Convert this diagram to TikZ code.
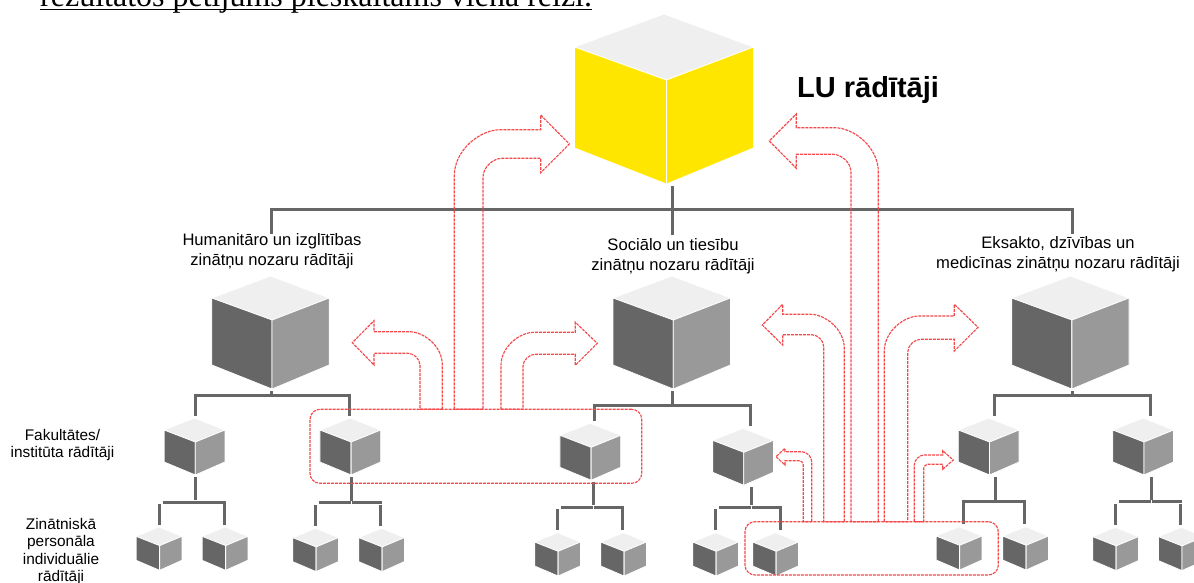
\documentclass[tikz,border=0pt]{standalone}
\usepackage{fontspec}
\setmainfont{Liberation Sans}
\newfontfamily\headfont{Liberation Serif}
\definecolor{treegray}{HTML}{666666}
\definecolor{faceL}{HTML}{666666}
\definecolor{faceR}{HTML}{999999}
\definecolor{faceT}{HTML}{EFEFEF}
\definecolor{luyellow}{HTML}{FFE600}
\definecolor{redline}{HTML}{F4484A}
\tikzset{
  tree/.style={draw=treegray,line width=3pt},
  seam/.style={draw=white,line width=0.8pt,line join=round},
  cubebox/.style={inner sep=0pt,outer sep=0pt,draw=none},
  redpath/.style={draw=redline,line width=1.15pt,dash pattern=on 3pt off 1pt},
  redbox/.style={redpath,rectangle,rounded corners=10pt,inner sep=0pt,outer sep=0pt},
  lab/.style={align=center,inner sep=0pt,font=\fontsize{16.6}{20}\selectfont},
  sidelab/.style={align=center,inner sep=0pt,font=\fontsize{15.4}{17.6}\selectfont}
}
% name, cx, top, half width, top-face half height, side height, left colour, right colour
\newcommand\isocube[8]{%
  \pgfmathsetmacro\sx{#2+0.027*#4}%
  \pgfmathsetmacro\cy{#3+2*#5}%
  \pgfmathsetmacro\sy{#3+#5}%
  \pgfmathsetmacro\by{\cy+1.03*#6}%
  \pgfmathsetmacro\lx{#2-#4}%
  \pgfmathsetmacro\rx{#2+#4}%
  \pgfmathsetmacro\sb{\sy+#6}%
  \path[fill=faceT,seam] (\lx,\sy) -- (#2,#3) -- (\rx,\sy) -- (\sx,\cy) -- cycle;
  \path[fill=#7,seam] (\lx,\sy) -- (\sx,\cy) -- (\sx,\by) -- (\lx,\sb) -- cycle;
  \path[fill=#8,seam] (\rx,\sy) -- (\sx,\cy) -- (\sx,\by) -- (\rx,\sb) -- cycle;
  \pgfmathsetmacro\nw{2*#4}%
  \pgfmathsetmacro\nh{\by-#3+4.5}%
  \pgfmathsetmacro\ny{(#3-2.5+\by+2)/2}%
  \node[cubebox,minimum width=\nw pt,minimum height=\nh pt] (#1) at (\sx,\ny) {};
}
\newcommand\midcube[3]{\isocube{#1}{#2}{#3}{58.7}{22}{67}{faceL}{faceR}}
\newcommand\smallcube[3]{\isocube{#1}{#2}{#3}{30.4}{12}{32}{faceL}{faceR}}
\newcommand\tinycube[3]{\isocube{#1}{#2}{#3}{22.9}{9.3}{24}{faceL}{faceR}}
% parent, left, right, xP, xL, xR, ybar, left gap
\newcommand\branch[8]{%
  \draw[tree] (#4,0 |- #1.south) -- (#4,#7-1.6);
  \draw[tree] (#5,0 |- #2.north) -- (#5,#7+2);
  \draw[tree] (#6,0 |- #3.north) -- (#6,#7+2);
  \draw[tree] (#5+#8,#7) -- (#4-0.4,#7);
  \draw[tree] (#4+0.4,#7) -- (#6+1,#7);
}
% box, outer x, inner x, outer top y, inner top y, base x, wing1, wing2, tip x, tip y, outer r, inner r
\newcommand\bentarrow[9]{%
  \def\ba{#1}\def\bb{#2}\def\bc{#3}\def\bd{#4}\def\be{#5}\def\bf{#6}\def\bg{#7}\def\bh{#8}\def\bi{#9}%
  \bentarrowrest}
\newcommand\bentarrowrest[3]{%
  \pgfmathsetmacro\dd{ifthenelse(\bf>\bb,1,-1)}%
  \pgfmathsetmacro\oax{\bb}\pgfmathsetmacro\oay{\bd+#2}%
  \pgfmathsetmacro\obx{\bb+\dd*#2}%
  \pgfmathsetmacro\iax{\bc}\pgfmathsetmacro\iay{\be+#3}%
  \pgfmathsetmacro\ibx{\bc+\dd*#3}%
  \pgfmathsetmacro\ocay{\bd+0.45*#2}%
  \pgfmathsetmacro\ocbx{\bb+\dd*0.55*#2}%
  \pgfmathsetmacro\icax{\bc+\dd*0.55*#3}%
  \pgfmathsetmacro\icby{\be+0.45*#3}%
  \draw[redpath,line join=miter] (\bb,0 |- \ba.north) -- (\oax,\oay)
    .. controls (\bb,\ocay) and (\ocbx,\bd) .. (\obx,\bd)
    -- (\bf,\bd) -- (\bf,\bg) -- (\bi,#1) -- (\bf,\bh) -- (\bf,\be) -- (\ibx,\be)
    .. controls (\icax,\be) and (\bc,\icby) .. (\iax,\iay)
    -- (\bc,0 |- \ba.north) -- cycle;
}
\begin{document}
\begin{tikzpicture}[x=1pt,y=-1pt]
\useasboundingbox (0,0) rectangle (1194,583);
\clip (0,0) rectangle (1194,583);
\fill[white] (0,0) rectangle (1194,583);

% heading fragment
\node[anchor=base west,inner sep=0pt,font=\headfont\fontsize{32}{34}\selectfont] (head) at (40,6.5) {rezultātos pētījums pieskaitāms vienā reizi.};
\draw[black,line width=1.8pt] ([yshift=-3pt]head.base west) -- ([yshift=-3pt]head.base east);

% cubes
\isocube{lu}{664}{14}{89.5}{33}{101}{luyellow}{luyellow}
\midcube{hum}{270.5}{276}
\midcube{soc}{671.7}{276}
\midcube{eks}{1070.3}{276}
\smallcube{fa}{194.5}{418}
\smallcube{fb}{350.3}{418}
\smallcube{fc}{590.3}{423.3}
\smallcube{fd}{743}{428.3}
\smallcube{fe}{988.7}{418}
\smallcube{ff}{1143.2}{418}
\tinycube{ta}{159}{527}
\tinycube{tb}{225}{527}
\tinycube{tc}{315.5}{528.3}
\tinycube{td}{381.5}{528.3}
\tinycube{te}{557.5}{532.7}
\tinycube{tf}{623.5}{532.7}
\tinycube{tg}{715.5}{532.7}
\tinycube{th}{775.5}{532.7}
\tinycube{ti}{959}{526.7}
\tinycube{tj}{1025.5}{526.7}
\tinycube{tk}{1115.5}{527.3}
\tinycube{tl}{1181.3}{527.3}

% labels
\node[lab] (lhum) at (272,250.8) {Humanitāro un izglītības\\zinātņu nozaru rādītāji};
\node[lab] (lsoc) at (673,255.8) {Sociālo un tiesību\\zinātņu nozaru rādītāji};
\node[lab] (leks) at (1058,253.8) {Eksakto, dzīvības un\\medicīnas zinātņu nozaru rādītāji};
\node[sidelab,anchor=center] (lfak) at (62.5,445) {Fakultātes/\\institūta rādītāji};
\node[sidelab,anchor=center] (lzin) at (61,551.5) {Zinātniskā\\personāla\\individuālie\\rādītāji};
\node[anchor=base west,inner sep=0pt,font=\bfseries\fontsize{29}{32}\selectfont] (lutitle) at (797,98) {LU rādītāji};

% tree connectors
\draw[tree] (271.3,234) -- (271.3,209.5) -- (1072.7,209.5) -- (1072.7,234);
\draw[tree] (672.3,0 |- lu.south) -- (672.3,234.5);
\draw[tree] (195,0 |- fa.north) -- (195,395) -- (349.3,395) -- (349.3,0 |- fb.north);
\draw[tree] (271.5,0 |- hum.south) -- (271.5,395);
\draw[tree] (594.3,0 |- fc.north) -- (594.3,405) -- (750,405) -- (750,0 |- fd.north);
\draw[tree] (672.2,0 |- soc.south) -- (672.2,405);
\draw[tree] (994.7,0 |- fe.north) -- (994.7,395) -- (1150,395) -- (1150,0 |- ff.north);
\draw[tree] (1072,0 |- eks.south) -- (1072,395);
\branch{fa}{ta}{tb}{195}{159.3}{224.5}{502}{3.7}
\branch{fb}{tc}{td}{351.3}{315.7}{380.7}{502.7}{3.7}
\branch{fc}{te}{tf}{593.3}{557.3}{622.7}{507}{3.7}
\branch{fd}{tg}{th}{751.3}{715.7}{780.7}{507}{3.7}
\branch{fe}{ti}{tj}{995}{963.3}{1024.7}{501.3}{-1}
\branch{ff}{tk}{tl}{1151.3}{1115.3}{1180.7}{501.7}{3.7}

% red groups
\node[redbox,minimum width=331.7pt,minimum height=74pt] (groupa) at (475.85,446.3) {};
\node[redbox,minimum width=253.3pt,minimum height=53.3pt] (groupb) at (871.65,548.35) {};

% red block arrows
\bentarrow{groupa}{454.3}{483}{129.7}{158.3}{540.7}{115}{172.7}{569.3}{144}{46}{19}
\bentarrow{groupb}{878.3}{851}{127.7}{154.3}{796.3}{114}{168.3}{769.3}{141}{44}{18}
\bentarrow{groupa}{442.3}{420}{331.7}{353.3}{374}{320.7}{365}{352.3}{342.7}{33}{12}
\bentarrow{groupa}{501}{523}{332.3}{354.3}{575.3}{322.3}{365.3}{597.3}{343.3}{33}{12}
\bentarrow{groupb}{844.3}{823.7}{314.3}{334.7}{782.7}{304.3}{345}{762.3}{325}{34}{12}
\bentarrow{groupb}{884.3}{907.7}{316}{339.3}{954.3}{304.3}{351}{978}{327.3}{35}{13}
\bentarrow{groupb}{811.7}{803.3}{451.7}{460.7}{785}{448.3}{465}{776}{456.7}{10}{4}
\bentarrow{groupb}{914.3}{923.7}{455}{464.3}{942.7}{450.7}{469.3}{953.3}{460}{10}{4}
\end{tikzpicture}
\end{document}
